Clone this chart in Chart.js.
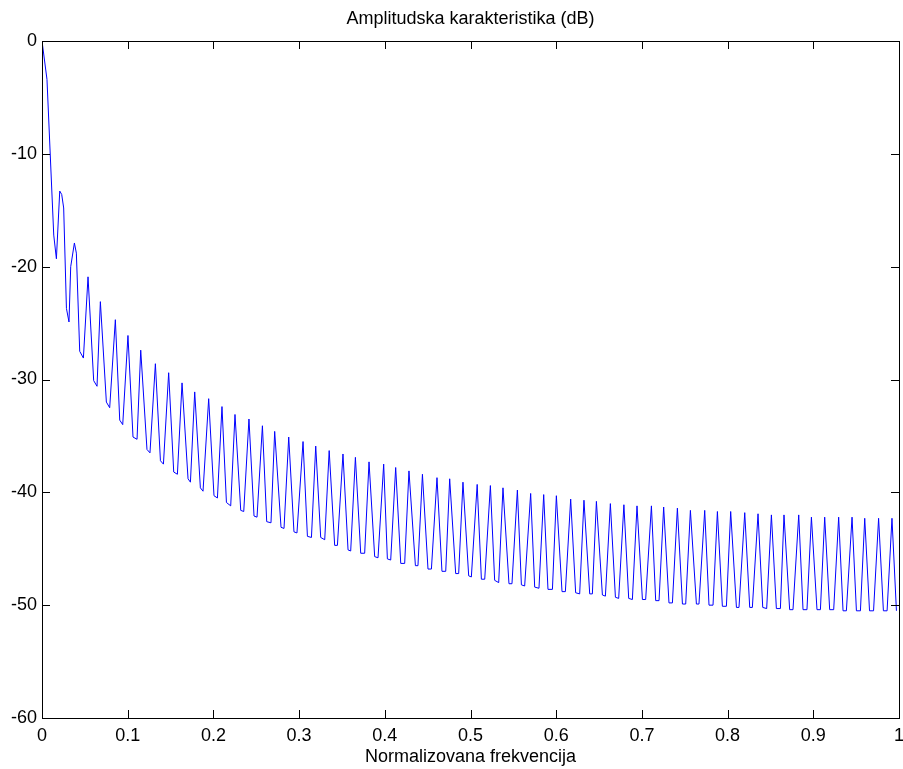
<!DOCTYPE html>
<html><head><meta charset="utf-8">
<script src="https://cdn.jsdelivr.net/npm/chart.js@4/dist/chart.umd.min.js"></script>
<style>html,body{margin:0;padding:0;background:#fff;} canvas{display:block;}</style>
</head><body>
<canvas id="c" width="903" height="769"></canvas>
<script>
const freq = [0, 0.0058, 0.0137, 0.0168, 0.0207, 0.0230, 0.0253, 0.0285, 0.0315, 0.0335, 0.0378, 0.0401,
 0.0440, 0.0483, 0.0537, 0.0603, 0.0642, 0.0681, 0.0751, 0.0790, 0.0856, 0.0907, 0.0942, 0.1003,
 0.1062, 0.1109, 0.1152, 0.1225, 0.1260, 0.1323, 0.1382, 0.1417, 0.1478, 0.1537, 0.1580, 0.1634,
 0.1704, 0.1732, 0.1782, 0.1848, 0.1879, 0.1945, 0.2007, 0.2047, 0.2100, 0.2152, 0.2202, 0.2252,
 0.2319, 0.2354, 0.2415, 0.2474, 0.2509, 0.2572, 0.2622, 0.2672, 0.2715, 0.2789, 0.2824, 0.2879,
 0.2940, 0.2975, 0.3046, 0.3097, 0.3144, 0.3194, 0.3252, 0.3299, 0.3351, 0.3415, 0.3447, 0.3512,
 0.3571, 0.3602, 0.3657, 0.3719, 0.3765, 0.3816, 0.3882, 0.3921, 0.3987, 0.4030, 0.4069, 0.4127,
 0.4186, 0.4232, 0.4282, 0.4357, 0.4387, 0.4439, 0.4504, 0.4544, 0.4609, 0.4667, 0.4711, 0.4757,
 0.4827, 0.4862, 0.4912, 0.4979, 0.5010, 0.5078, 0.5127, 0.5166, 0.5232, 0.5282, 0.5329, 0.5379,
 0.5449, 0.5484, 0.5547, 0.5594, 0.5632, 0.5702, 0.5749, 0.5799, 0.5854, 0.5904, 0.5956, 0.6002,
 0.6068, 0.6107, 0.6169, 0.6227, 0.6274, 0.6324, 0.6391, 0.6422, 0.6469, 0.6539, 0.6574, 0.6632,
 0.6691, 0.6729, 0.6790, 0.6846, 0.6889, 0.6943, 0.7006, 0.7044, 0.7111, 0.7161, 0.7200, 0.7254,
 0.7316, 0.7356, 0.7414, 0.7473, 0.7511, 0.7566, 0.7636, 0.7666, 0.7733, 0.7783, 0.7830, 0.7881,
 0.7939, 0.7986, 0.8036, 0.8103, 0.8133, 0.8200, 0.8258, 0.8289, 0.8355, 0.8410, 0.8456, 0.8511,
 0.8569, 0.8616, 0.8658, 0.8724, 0.8763, 0.8830, 0.8880, 0.8926, 0.8978, 0.9043, 0.9083, 0.9133,
 0.9191, 0.9238, 0.9296, 0.9347, 0.9386, 0.9452, 0.9503, 0.9550, 0.9600, 0.9656, 0.9703, 0.9762,
 0.9818, 0.9861, 0.9918, 0.9970];

const magDb = [0, -3.4, -17.2, -19.3, -13.3, -13.6, -14.8, -23.7, -24.9, -20.0, -17.9, -18.8,
 -27.5, -28.1, -20.9, -30.1, -30.6, -23.1, -32.0, -32.5, -24.7, -33.6, -34.0, -26.1,
 -35.1, -35.3, -27.4, -36.2, -36.5, -28.6, -37.2, -37.5, -29.4, -38.2, -38.4, -30.3,
 -38.8, -39.1, -31.1, -39.6, -39.9, -31.7, -40.3, -40.5, -32.4, -40.9, -41.2, -33.1,
 -41.6, -41.7, -33.5, -42.1, -42.2, -34.1, -42.6, -42.7, -34.6, -43.1, -43.2, -35.1,
 -43.5, -43.6, -35.5, -43.9, -44.0, -35.9, -44.0, -44.2, -36.3, -44.7, -44.7, -36.6,
 -45.1, -45.2, -36.9, -45.4, -45.4, -37.3, -45.7, -45.8, -37.5, -45.9, -46.0, -37.8,
 -46.3, -46.3, -38.1, -46.5, -46.5, -38.4, -46.8, -46.8, -38.7, -47.0, -47.0, -38.8,
 -47.2, -47.2, -39.1, -47.4, -47.5, -39.3, -47.7, -47.7, -39.4, -47.8, -48.0, -39.6,
 -48.1, -48.1, -39.8, -48.2, -48.3, -40.1, -48.4, -48.5, -40.2, -48.6, -48.6, -40.3,
 -48.8, -48.8, -40.6, -48.9, -49.0, -40.7, -49.0, -49.0, -40.8, -49.1, -49.2, -41.0,
 -49.3, -49.4, -41.1, -49.4, -49.5, -41.2, -49.5, -49.5, -41.2, -49.6, -49.6, -41.3,
 -49.8, -49.8, -41.4, -49.9, -49.9, -41.6, -49.9, -49.9, -41.6, -50.0, -50.0, -41.7,
 -50.1, -50.1, -41.7, -50.2, -50.2, -41.8, -50.2, -50.2, -41.9, -50.2, -50.3, -42.0,
 -50.3, -50.3, -42.0, -50.4, -50.4, -42.0, -50.4, -50.4, -42.2, -50.4, -50.4, -42.2,
 -50.4, -50.4, -42.2, -50.5, -50.5, -42.2, -50.5, -50.5, -42.3, -50.5, -50.5, -42.3,
 -50.5, -50.5, -42.3, -50.5];

const xTickValues = [0, 0.1, 0.2, 0.3, 0.4, 0.5, 0.6, 0.7, 0.8, 0.9, 1];
const xTickLabels = ['0', '0.1', '0.2', '0.3', '0.4', '0.5', '0.6', '0.7', '0.8', '0.9', '1'];
const yTickValues = [-60, -50, -40, -30, -20, -10, 0];
const yTickLabels = ['-60', '-50', '-40', '-30', '-20', '-10', '0'];

const titleText = 'Amplitudska karakteristika (dB)';
const xAxisLabel = 'Normalizovana frekvencija';

const FONT = "'Liberation Sans', Arial, sans-serif";
const FS = 18;

const innerTicks = {
  id: 'innerTicks',
  afterDatasetsDraw(chart) {
    const ctx = chart.ctx;
    const {left, right, top, bottom} = chart.chartArea;
    const x = chart.scales.x, y = chart.scales.y;
    const L = 8;
    ctx.save();
    ctx.strokeStyle = '#000';
    ctx.lineWidth = 1;
    ctx.beginPath();
    xTickValues.forEach(v => {
      const px = Math.round(x.getPixelForValue(v)) + 0.5;
      ctx.moveTo(px, bottom); ctx.lineTo(px, bottom - L);
      ctx.moveTo(px, top); ctx.lineTo(px, top + L);
    });
    yTickValues.forEach(v => {
      const py = Math.round(y.getPixelForValue(v)) + 0.5;
      ctx.moveTo(left, py); ctx.lineTo(left + L, py);
      ctx.moveTo(right, py); ctx.lineTo(right - L, py);
    });
    ctx.stroke();
    ctx.strokeRect(Math.round(left) + 0.5, Math.round(top) + 0.5, Math.round(right - left), Math.round(bottom - top));
    ctx.restore();
  }
};

new Chart(document.getElementById('c'), {
  type: 'line',
  data: {
    datasets: [{
      data: freq.map((f, i) => ({x: f, y: magDb[i]})),
      borderColor: '#0000ff',
      borderWidth: 1,
      pointRadius: 0,
      tension: 0,
      fill: false
    }]
  },
  options: {
    responsive: false,
    animation: false,
    layout: {padding: {left: 0, right: 4, top: 0, bottom: 0}},
    plugins: {
      legend: {display: false},
      tooltip: {enabled: false},
      title: {
        display: true, text: titleText, color: '#000', fullSize: false,
        font: {family: FONT, size: FS, weight: 'normal', lineHeight: 1.2},
        padding: {top: 8, bottom: 11.4}
      }
    },
    scales: {
      x: {
        type: 'linear', min: 0, max: 1,
        grid: {display: false, drawTicks: false},
        border: {display: false},
        afterBuildTicks: s => { s.ticks = xTickValues.map(v => ({value: v})); },
        ticks: {
          autoSkip: false, maxRotation: 0, padding: 7, color: '#000',
          font: {family: FONT, size: FS},
          callback: (v, i) => xTickLabels[i]
        },
        title: {
          display: true, text: xAxisLabel, color: '#000',
          font: {family: FONT, size: FS, lineHeight: 1.2},
          padding: {top: 2, bottom: 1}
        },
        afterFit: s => { s.height = 51; s.paddingLeft = 0; s.paddingRight = 0; }
      },
      y: {
        type: 'linear', min: -60, max: 0,
        grid: {display: false, drawTicks: false},
        border: {display: false},
        afterBuildTicks: s => { s.ticks = yTickValues.map(v => ({value: v})); },
        ticks: {
          autoSkip: false, padding: 5, color: '#000',
          font: {family: FONT, size: FS},
          callback: (v, i) => yTickLabels[i]
        },
        afterFit: s => { s.width = 42; s.paddingTop = 0; s.paddingBottom = 0; }
      }
    }
  },
  plugins: [innerTicks]
});
</script>
</body></html>
